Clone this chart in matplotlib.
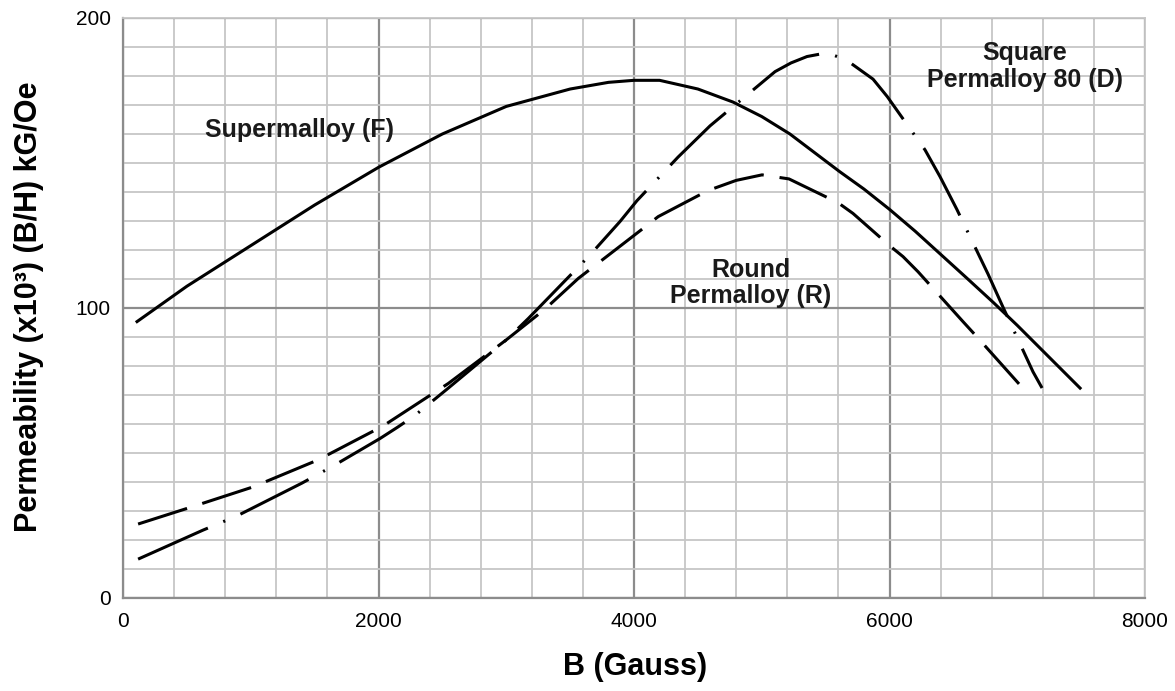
import numpy as np
import matplotlib
matplotlib.use("Agg")
import matplotlib.pyplot as plt
from matplotlib.ticker import MultipleLocator

# Values
# Supermalloy (F) - solid line
supermalloy_b = [100, 500, 1000, 1500, 2000, 2500, 3000, 3500, 3800, 4000, 4200,
                 4500, 4775, 5000, 5220, 5400, 5610, 5800, 6000, 6200, 6400,
                 6600, 6810, 7000, 7250, 7500]
supermalloy_mu = [95, 107.5, 121.5, 135.5, 148.5, 160, 169.5, 175.5, 177.8, 178.5, 178.5,
                  175.5, 171, 166, 160, 154, 147, 141, 134, 126.5, 118.5,
                  110.5, 102, 94, 83, 72]

# Square Permalloy 80 (D) - dash-dot line
square_b = [118, 626, 892, 1400, 1644, 2012, 2153, 2286, 2536, 3000, 3173, 3656,
            3890, 4023, 4344, 4595, 5104, 5229, 5354, 5511, 5662, 5871, 5982,
            6278, 6395, 6527, 6771, 6888, 7123, 7194]
square_mu = [13.4, 23.4, 28.3, 39.6, 45.5, 55, 59, 63, 72, 89, 96.4, 118.3,
             129.8, 137, 152, 162.8, 181.5, 184.5, 186.7, 188, 185.5, 178.9, 172.9,
             154.5, 145.3, 134, 111.7, 100.3, 78, 72.4]

# Round Permalloy (R) - long dashed line
round_b = [118, 509, 1018, 1526, 2035, 2547, 3000, 3300, 3564, 4073, 4189, 4579,
           4800, 5002, 5213, 5597, 5714, 6000, 6106, 6223, 6575, 6685, 7022]
round_mu = [25.5, 31, 38.3, 47.6, 59.3, 74, 89, 99.5, 110.2, 127.5, 131.5, 140.5,
            144, 145.9, 144.5, 136.3, 132.6, 121.5, 117.7, 112.5, 95.3, 90, 73.4]

x_ticks = [0, 2000, 4000, 6000, 8000]
y_ticks = [0, 100, 200]

plt.rcParams['font.family'] = ['Liberation Sans', 'DejaVu Sans']
plt.rcParams['lines.scale_dashes'] = False

fig = plt.figure(figsize=(11.75, 6.91), dpi=100)
ax = fig.add_axes([0.1047, 0.1346, 0.8698, 0.8394])

ax.set_xlim(0, 8000)
ax.set_ylim(0, 200)

# grid: light minor lines, darker major lines
ax.xaxis.set_minor_locator(MultipleLocator(400))
ax.yaxis.set_minor_locator(MultipleLocator(10))
ax.set_xticks(x_ticks)
ax.set_yticks(y_ticks)
ax.grid(which='minor', color='#c6c6c6', linewidth=1.3)
ax.grid(which='major', color='#8c8c8c', linewidth=1.6)
ax.set_axisbelow(True)

for side in ['top', 'right']:
    ax.spines[side].set_color('#c6c6c6')
    ax.spines[side].set_linewidth(1.3)
for side in ['left', 'bottom']:
    ax.spines[side].set_color('#8c8c8c')
    ax.spines[side].set_linewidth(1.6)

ax.tick_params(which='both', length=0)
ax.tick_params(axis='x', labelsize=15, pad=10)
ax.tick_params(axis='y', labelsize=15, pad=9)

# curves
ax.plot(supermalloy_b, supermalloy_mu, color='black', linewidth=2.2,
        solid_capstyle='butt')
ax.plot(square_b, square_mu, color='black', linewidth=2.2,
        dashes=(55, 12, 1.5, 12), dash_capstyle='butt')
ax.plot(round_b, round_mu, color='black', linewidth=2.2,
        dashes=(37, 11.5), dash_capstyle='butt')

# curve labels
ax.text(1378, 161.4, 'Supermalloy (F)', fontsize=18, fontweight='bold',
        ha='center', va='center', color='#1a1a1a')
ax.text(7061, 183.4, 'Square\nPermalloy 80 (D)', fontsize=18, fontweight='bold',
        ha='center', va='center', linespacing=1.15, color='#1a1a1a')
ax.text(4916, 108.6, 'Round\nPermalloy (R)', fontsize=18, fontweight='bold',
        ha='center', va='center', linespacing=1.15, color='#1a1a1a')

# axis labels
fig.text(635 / 1175, 1 - 667 / 691, 'B (Gauss)', fontsize=22, fontweight='bold',
         ha='center', va='center')
fig.text(29 / 1175, 1 - 307 / 691, 'Permeability (x10³) (B/H) kG/Oe', fontsize=22,
         fontweight='bold', ha='center', va='center', rotation=90)

fig.savefig('out.png', dpi=100)
